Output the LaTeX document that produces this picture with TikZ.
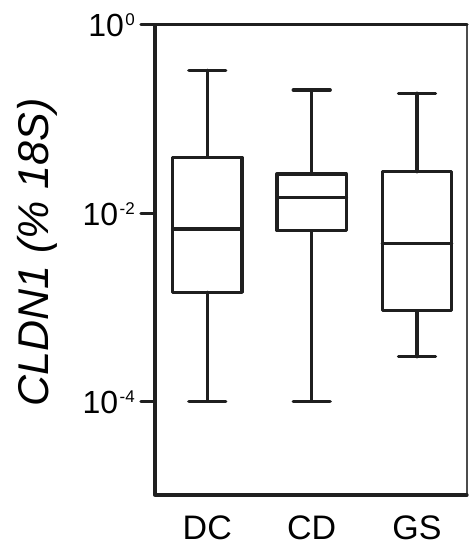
\documentclass[tikz,border=0pt]{standalone}
\usepackage{fontspec}
\setmainfont{Liberation Sans}
\begin{document}
\begin{tikzpicture}[x=1pt,y=1pt,
  plotline/.style={line width=3.3pt,black!88,line cap=round,line join=round},
  framerightline/.style={line width=1.3pt,black!70},
  ticklabel/.style={anchor=base east,inner sep=0pt,font=\fontsize{32}{32}\selectfont},
  catlabel/.style={anchor=base,inner sep=0pt,text depth=0pt,font=\fontsize{34}{34}\selectfont},
  axislabel/.style={anchor=base,inner sep=0pt,rotate=90,font=\fontsize{43}{43}\selectfont\itshape}]
\useasboundingbox (0,0) rectangle (469,-547);
% frame
\coordinate (tl) at (155,-24.3);
\coordinate (bl) at (155,-495);
\coordinate (br) at (467,-495);
\coordinate (tr) at (467,-24.3);
\draw[framerightline] (tr) -- (br);
\draw[plotline] (tr) -- (tl) -- (bl) -- (br);
% ticks
\foreach \ty/\ex/\nm in {24.3/0/a,213.3/-2/b,401.3/-4/c}{
  \coordinate (tk\nm) at (141,-\ty);
  \coordinate (ta\nm) at (155,-\ty);
  \draw[plotline] (tk\nm) -- (ta\nm);
  \node[ticklabel] (tl\nm) at (135,-\ty-11.8) {10\hspace{1.5pt}\raisebox{11pt}{\fontsize{17}{17}\selectfont\ex}};
}
% boxes
\foreach \cx/\wt/\qt/\md/\qb/\wb/\nm in {207.3/70.3/157.3/229/292.3/401.3/DC,311.7/90/174/197.3/230.7/401.3/CD,417/93.3/171.7/243.3/310.7/356.7/GS}{
  \draw[plotline] (\cx-34.7,-\qt) rectangle (\cx+34.7,-\qb);
  \draw[plotline] (\cx-34.7,-\md) -- (\cx+34.7,-\md);
  \draw[plotline] (\cx,-\wt) -- (\cx,-\qt);
  \draw[plotline] (\cx,-\qb) -- (\cx,-\wb);
  \draw[plotline] (\cx-18.5,-\wt) -- (\cx+18.5,-\wt);
  \draw[plotline] (\cx-18.5,-\wb) -- (\cx+18.5,-\wb);
  \node[catlabel] (lab\nm) at (\cx,-539) {\nm};
}
% axis label
\node[axislabel] (ylab) at (48,-252.5) {CLDN1 (\% 18S)};
\end{tikzpicture}
\end{document}
